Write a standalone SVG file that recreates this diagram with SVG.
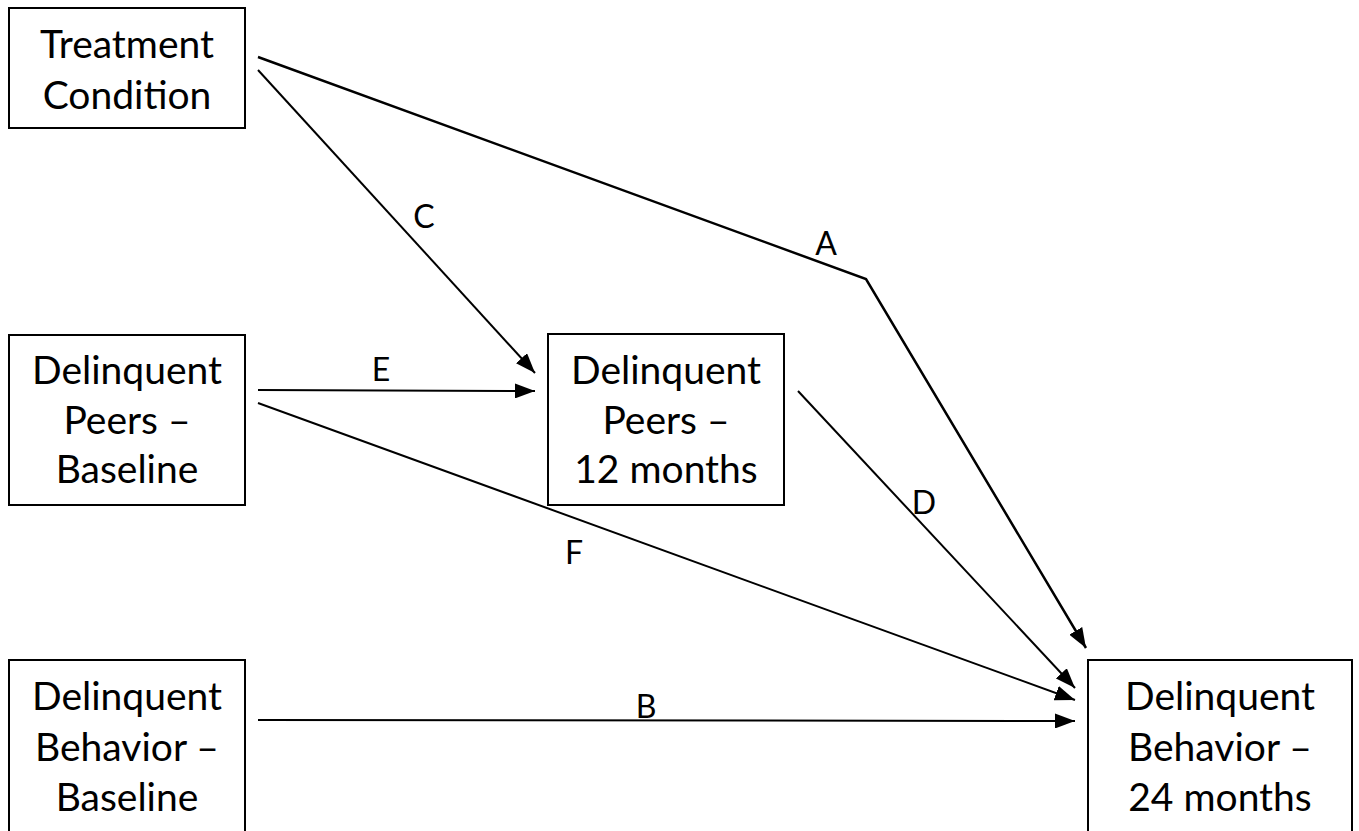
<svg xmlns="http://www.w3.org/2000/svg" width="1359" height="831" viewBox="0 0 1359 831">
<style>
.box{fill:#fff;stroke:#000;stroke-width:2}
.t{font-family:Lato,"Open Sans",sans-serif;font-size:39px;fill:#000;text-anchor:middle}
.l{font-family:Lato,"Open Sans",sans-serif;font-size:32px;fill:#000;text-anchor:middle}
.c{fill:none;stroke:#000;stroke-width:2}
</style>
<defs>
<marker id="ah" viewBox="0 0 10 10" refX="10" refY="5" markerWidth="20" markerHeight="15" markerUnits="userSpaceOnUse" orient="auto" preserveAspectRatio="none">
<path d="M0,0 L10,5 L0,10 z" fill="#000"/>
</marker>
</defs>
<rect width="1359" height="831" fill="#fff"/>
<g id="treatment">
<rect class="box" x="9" y="8" width="236" height="120"/>
<text class="t" x="127" y="58">Treatment</text>
<text class="t" x="127" y="109">Condition</text>
</g>
<g id="peers-baseline">
<rect class="box" x="9" y="335" width="236" height="170"/>
<text class="t" x="127" y="384">Delinquent</text>
<text class="t" x="127" y="434">Peers –</text>
<text class="t" x="127" y="483">Baseline</text>
</g>
<g id="peers-12">
<rect class="box" x="548" y="334" width="236" height="171"/>
<text class="t" x="666" y="384">Delinquent</text>
<text class="t" x="666" y="434">Peers –</text>
<text class="t" x="666" y="483">12 months</text>
</g>
<g id="behavior-baseline">
<rect class="box" x="9" y="660" width="236" height="180"/>
<text class="t" x="127" y="710">Delinquent</text>
<text class="t" x="127" y="761">Behavior –</text>
<text class="t" x="127" y="811">Baseline</text>
</g>
<g id="behavior-24">
<rect class="box" x="1088" y="660" width="264" height="180"/>
<text class="t" x="1220" y="710">Delinquent</text>
<text class="t" x="1220" y="761">Behavior –</text>
<text class="t" x="1220" y="811">24 months</text>
</g>
<g id="connectors">
<path class="c" d="M258,57 L866,279 L1086,648" marker-end="url(#ah)" style="stroke-width:2.5"/>
<path class="c" d="M258,70 L535,373" marker-end="url(#ah)"/>
<path class="c" d="M258,390 L535,391" marker-end="url(#ah)"/>
<path class="c" d="M258,403 L1075,700" marker-end="url(#ah)"/>
<path class="c" d="M798,391 L1075,688" marker-end="url(#ah)"/>
<path class="c" d="M258,720 L1075,721" marker-end="url(#ah)"/>
<text class="l" x="826" y="255">A</text>
<text class="l" x="424" y="228">C</text>
<text class="l" x="381" y="381">E</text>
<text class="l" x="574" y="564">F</text>
<text class="l" x="924" y="514">D</text>
<text class="l" x="646" y="718">B</text>
</g>
</svg>
